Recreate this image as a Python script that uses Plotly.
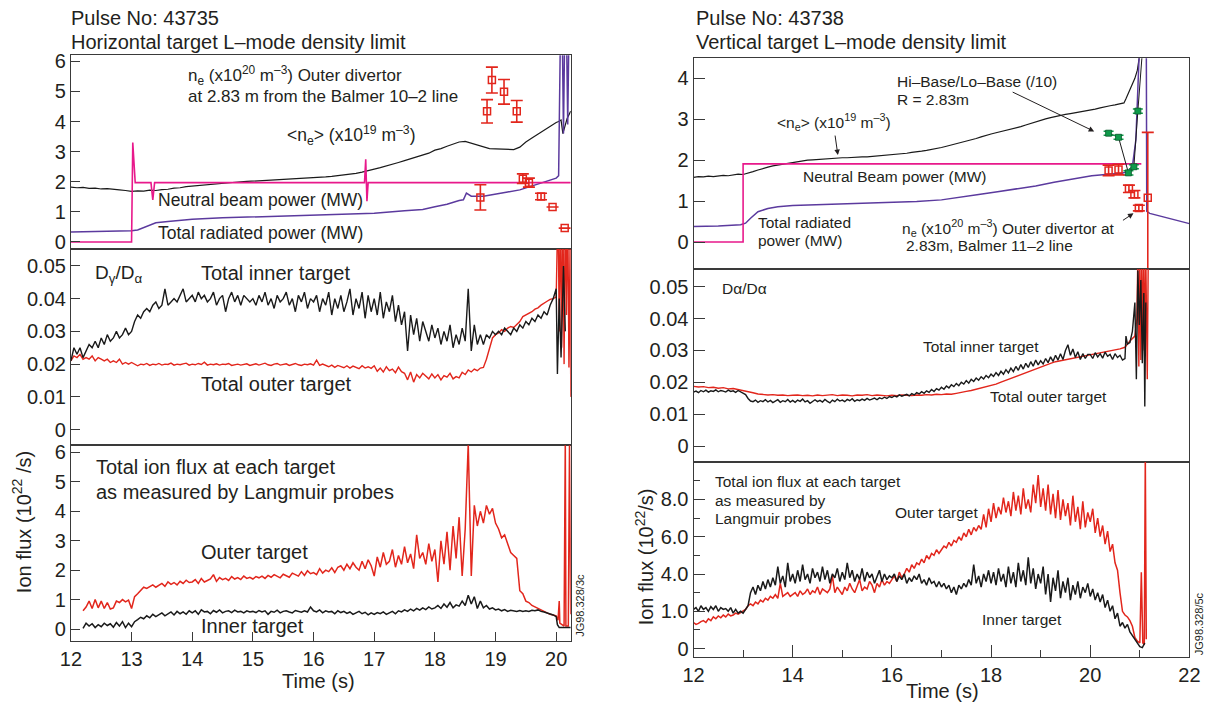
import plotly.graph_objects as go

W, H = 1224, 709
FONT = "Liberation Sans, Arial, Helvetica, sans-serif"
INK = "#231f20"
RED = "#e2261c"
BLACK = "#1a1a1a"
MAGENTA = "#e8198b"
PURPLE = "#5b3a9e"
GREEN = "#0f9a4a"

# ---------------- LEFT: pulse 43735 ----------------
# top panel
L_NBI_T = [12.0, 13.0, 13.02, 13.06, 13.32, 13.35, 13.38, 16.84, 16.86, 16.88, 16.90, 20.24]
L_NBI = [0.0, 0.0, 3.3, 1.97, 1.97, 1.4, 1.97, 1.97, 2.75, 1.35, 1.97, 1.97]

L_NE_T0, L_NE_DT = 12.0, 0.1
L_NE = [1.82, 1.80, 1.81, 1.78, 1.79, 1.76, 1.77, 1.74, 1.73, 1.71,
        1.68, 1.70, 1.69, 1.72, 1.71, 1.74, 1.75, 1.79, 1.80, 1.84,
        1.86, 1.87, 1.90, 1.91, 1.94, 1.95, 1.97, 1.98, 2.00, 2.01,
        2.02, 2.04, 2.04, 2.06, 2.06, 2.08, 2.08, 2.10, 2.10, 2.12,
        2.13, 2.15, 2.16, 2.18, 2.20, 2.23, 2.25, 2.28, 2.32, 2.36,
        2.42, 2.47, 2.52, 2.58, 2.64, 2.70, 2.76, 2.82, 2.88, 2.95,
        3.05, 3.10, 3.18, 3.26, 3.32, 3.34, 3.28, 3.20, 3.14, 3.10,
        3.09, 3.08, 3.08, 3.07, 3.15, 3.32, 3.45, 3.58, 3.72, 3.86,
        3.97]
L_NE_TAIL_T = [20.04, 20.08, 20.11, 20.14, 20.18, 20.24]
L_NE_TAIL = [4.0, 4.05, 3.6, 3.85, 4.1, 4.35]

L_PRAD_T = [12.0, 12.5, 13.0, 13.1, 13.2, 13.3, 13.4, 13.6, 13.8, 14.0, 14.5, 15.0, 15.5, 16.0,
            16.5, 17.0, 17.5, 17.8, 18.0, 18.2, 18.4, 18.47, 18.52, 18.6, 18.8, 19.0, 19.2,
            19.4, 19.6, 19.8, 20.0, 20.04, 20.07, 20.1, 20.12, 20.14, 20.17, 20.19, 20.21, 20.24]
L_PRAD = [0.33, 0.35, 0.37, 0.40, 0.48, 0.58, 0.64, 0.68, 0.72, 0.75, 0.80, 0.83, 0.86, 0.88,
          0.91, 0.95, 1.04, 1.08, 1.17, 1.25, 1.38, 1.40, 1.62, 1.52, 1.52, 1.60, 1.66,
          1.73, 1.86, 1.98, 2.12, 2.2, 7.0, 7.0, 3.6, 7.0, 7.0, 3.9, 7.0, 7.0]

L_NED_T = [18.94, 19.14, 18.86, 19.35, 18.75, 19.45, 19.55, 19.75, 19.94, 20.14]
L_NED = [5.38, 4.99, 4.34, 4.34, 1.48, 2.10, 1.97, 1.51, 1.16, 0.46]
L_NED_ERR = [0.43, 0.41, 0.39, 0.36, 0.42, 0.16, 0.15, 0.11, 0.0, 0.0]

# middle panel  D_gamma / D_alpha
L_DG_T0, L_DG_DT = 12.0, 0.05
L_DG_INNER = [
    0.021, 0.025, 0.023, 0.025, 0.022, 0.024, 0.026, 0.025, 0.027, 0.025,
    0.028, 0.026, 0.029, 0.027, 0.028, 0.030, 0.028, 0.029, 0.031, 0.029,
    0.030, 0.033, 0.035, 0.034, 0.036, 0.037, 0.036, 0.038, 0.039, 0.037,
    0.038, 0.043, 0.038, 0.039, 0.040, 0.039, 0.041, 0.043, 0.039, 0.040,
    0.041, 0.039, 0.042, 0.040, 0.041, 0.039, 0.040, 0.042, 0.038, 0.040,
    0.041, 0.036, 0.040, 0.042, 0.039, 0.041, 0.038, 0.041, 0.040, 0.039,
    0.040, 0.038, 0.041, 0.039, 0.042, 0.038, 0.040, 0.037, 0.041, 0.039,
    0.040, 0.042, 0.038, 0.040, 0.036, 0.041, 0.039, 0.042, 0.037, 0.040,
    0.039, 0.041, 0.036, 0.040, 0.038, 0.042, 0.035, 0.040, 0.037, 0.041,
    0.036, 0.039, 0.043, 0.035, 0.040, 0.037, 0.042, 0.034, 0.041, 0.036,
    0.040, 0.035, 0.042, 0.034, 0.039, 0.036, 0.041, 0.033, 0.038, 0.032,
    0.036, 0.024, 0.035, 0.029, 0.034, 0.027, 0.033, 0.030, 0.027, 0.032,
    0.028, 0.031, 0.026, 0.030, 0.027, 0.032, 0.025, 0.029, 0.026, 0.031,
    0.027, 0.043, 0.024, 0.032, 0.026, 0.029, 0.026, 0.029, 0.028, 0.030,
    0.029, 0.030, 0.029, 0.031, 0.030, 0.029, 0.031, 0.030, 0.032, 0.031,
    0.033, 0.032, 0.034, 0.033, 0.035, 0.034, 0.036, 0.035, 0.038, 0.040,
    0.043]
L_DG_INNER_TAIL_T = [20.02, 20.05, 20.08, 20.12, 20.15]
L_DG_INNER_TAIL = [0.017, 0.040, 0.022, 0.050, 0.030]

L_DG_OUTER = [
    0.0210, 0.0225, 0.0220, 0.0230, 0.0215, 0.0220, 0.0215, 0.0225, 0.0210, 0.0220,
    0.0215, 0.0210, 0.0215, 0.0205, 0.0210, 0.0205, 0.0215, 0.0200, 0.0205, 0.0200,
    0.0205, 0.0200, 0.0195, 0.0200, 0.0198, 0.0202, 0.0196, 0.0200, 0.0198, 0.0202,
    0.0197, 0.0200, 0.0199, 0.0203, 0.0197, 0.0200, 0.0198, 0.0201, 0.0203, 0.0197,
    0.0200, 0.0198, 0.0202, 0.0199, 0.0206, 0.0197, 0.0200, 0.0198, 0.0201, 0.0197,
    0.0200, 0.0199, 0.0202, 0.0196, 0.0198, 0.0200, 0.0197, 0.0199, 0.0201, 0.0196,
    0.0198, 0.0201, 0.0197, 0.0200, 0.0203, 0.0198, 0.0196, 0.0200, 0.0202, 0.0197,
    0.0199, 0.0201, 0.0196, 0.0199, 0.0202, 0.0198, 0.0196, 0.0200, 0.0198, 0.0201,
    0.0197, 0.0212, 0.0196, 0.0200, 0.0195, 0.0192, 0.0197, 0.0190, 0.0196, 0.0192,
    0.0189, 0.0195, 0.0188, 0.0194, 0.0190, 0.0186, 0.0195, 0.0188, 0.0192, 0.0187,
    0.0195, 0.0178, 0.0188, 0.0176, 0.0192, 0.0180, 0.0185, 0.0174, 0.0191, 0.0177,
    0.0172, 0.0152, 0.0176, 0.0145, 0.0168, 0.0158, 0.0172, 0.0162, 0.0155, 0.0170,
    0.0158, 0.0168, 0.0152, 0.0165, 0.0160, 0.0172, 0.0155, 0.0162, 0.0158, 0.0175,
    0.0168, 0.0182, 0.0176, 0.0185, 0.0180, 0.0188, 0.0190, 0.0215, 0.0252, 0.0280,
    0.0290, 0.0295, 0.0305, 0.0300, 0.0310, 0.0315, 0.0312, 0.0320, 0.0330, 0.0345,
    0.0350, 0.0355, 0.0360, 0.0368, 0.0372, 0.0380, 0.0385, 0.0392, 0.0398, 0.0400,
    0.0405]
L_DG_OUTER_TAIL_T = [20.03, 20.05, 20.07, 20.09, 20.11, 20.13, 20.15, 20.17, 20.19, 20.21, 20.23, 20.24]
L_DG_OUTER_TAIL = [0.070, 0.030, 0.070, 0.025, 0.070, 0.020, 0.070, 0.035, 0.070, 0.019, 0.060, 0.010]

# bottom panel  ion flux
L_FX_T0, L_FX_DT = 12.2, 0.05
L_FX_OUTER = [
    0.62, 0.75, 0.95, 0.70, 1.00, 0.72, 0.95, 0.70, 0.90, 0.68, 0.72, 0.95, 0.90, 1.00, 0.92, 0.98,
    0.70, 1.10, 1.20, 1.30, 1.42, 1.38, 1.45, 1.50, 1.42, 1.48, 1.55, 1.45, 1.60, 1.52, 1.58, 1.50, 1.62, 1.55, 1.66, 1.58,
    1.60, 1.68, 1.55, 1.72, 1.60, 1.65, 1.70, 1.85, 1.62, 1.75, 1.68, 1.72, 1.65, 1.78, 1.70, 1.75, 1.68, 1.80, 1.72, 1.76,
    1.70, 1.78, 1.74, 1.80, 1.72, 1.82, 1.76, 1.85, 1.78, 1.74, 1.86, 1.80, 1.76, 1.90, 1.84, 1.80, 1.95, 1.82, 1.98, 1.88,
    1.92, 1.85, 2.05, 1.90, 2.00, 1.95, 2.08, 1.92, 2.10, 2.15, 2.00, 2.20, 2.05, 2.25, 2.10, 2.00, 2.30, 2.05, 2.35, 2.15,
    1.80, 2.45, 2.10, 2.60, 2.20, 2.30, 2.70, 2.10, 2.50, 2.20, 2.80, 2.25, 2.55, 2.05, 3.20, 2.40, 2.60, 2.20, 2.90, 2.30,
    2.70, 1.60, 3.00, 2.20, 3.30, 2.00, 3.50, 2.40, 3.80, 1.80, 3.40, 6.30, 1.80, 4.20, 3.50, 4.00, 3.60, 4.20, 3.90, 4.10,
    3.60, 3.40, 3.10, 3.20, 2.90, 2.60, 2.50, 2.40, 1.30, 1.20, 0.95, 0.90, 0.80, 0.75, 0.70, 0.65, 0.60, 0.55, 0.50, 0.48]
L_FX_OUTER_TAIL_T = [20.0, 20.03, 20.05, 20.06, 20.1, 20.13, 20.15, 20.16, 20.2, 20.22, 20.24]
L_FX_OUTER_TAIL = [0.45, 0.30, 0.95, 0.20, 0.15, 0.10, 6.5, 0.10, 0.10, 6.5, 0.5]

L_FX_INNER = [
    0.02, 0.20, 0.10, 0.18, 0.05, 0.15, 0.08, 0.20, 0.12, 0.18, 0.06, 0.22, 0.10, 0.25, 0.05, 0.20,
    0.08, 0.25, 0.32, 0.40, 0.35, 0.45, 0.38, 0.50, 0.42, 0.48, 0.55, 0.45, 0.52, 0.58, 0.48, 0.60, 0.52, 0.58, 0.50, 0.62,
    0.55, 0.62, 0.50, 0.65, 0.58, 0.60, 0.52, 0.63, 0.57, 0.65, 0.55, 0.60, 0.62, 0.56, 0.64, 0.58, 0.60, 0.55, 0.62, 0.58,
    0.60, 0.56, 0.63, 0.58, 0.62, 0.50, 0.60, 0.57, 0.64, 0.55, 0.60, 0.62, 0.58, 0.55, 0.63, 0.60, 0.57, 0.62, 0.58, 0.75,
    0.62, 0.58, 0.65, 0.55, 0.62, 0.58, 0.60, 0.52, 0.62, 0.56, 0.60, 0.53, 0.58, 0.50, 0.56, 0.60, 0.52, 0.57, 0.48, 0.55,
    0.50, 0.56, 0.52, 0.58, 0.50, 0.55, 0.60, 0.52, 0.62, 0.58, 0.65, 0.60, 0.68, 0.62, 0.70, 0.64, 0.72, 0.66, 0.75, 0.68,
    0.72, 0.80, 0.70, 0.85, 0.74, 0.90, 0.72, 0.82, 0.78, 0.95, 0.80, 1.15, 0.85, 1.10, 0.70, 0.95, 0.72, 0.80, 0.68, 0.72,
    0.65, 0.68, 0.62, 0.66, 0.60, 0.64, 0.62, 0.60, 0.63, 0.60, 0.62, 0.60, 0.64, 0.62, 0.65, 0.60, 0.58, 0.55, 0.52, 0.48]
L_FX_INNER_TAIL_T = [20.0, 20.02, 20.05, 20.24]
L_FX_INNER_TAIL = [0.42, 0.15, 0.05, 0.05]

# ---------------- RIGHT: pulse 43738 ----------------
R_NBI_T = [12.0, 13.0, 13.0, 21.03]
R_NBI = [0.0, 0.0, 1.91, 1.91]

R_NE_T0, R_NE_DT = 12.0, 0.1
R_NE = [1.58, 1.60, 1.59, 1.61, 1.60, 1.62, 1.63, 1.62, 1.64, 1.66,
        1.65, 1.68, 1.72, 1.76, 1.80, 1.83, 1.86, 1.88, 1.91, 1.93,
        1.95, 1.97, 1.98, 2.00, 2.01, 2.02, 2.03, 2.04, 2.05, 2.06,
        2.06, 2.06, 2.07, 2.07, 2.08, 2.08, 2.09, 2.10, 2.11, 2.12,
        2.13, 2.14, 2.15, 2.17, 2.19, 2.20, 2.22, 2.24, 2.26, 2.29,
        2.31, 2.34, 2.37, 2.40, 2.43, 2.47, 2.50, 2.53, 2.57, 2.61,
        2.64, 2.67, 2.70, 2.72, 2.75, 2.78, 2.82, 2.86, 2.90, 2.94,
        2.97, 3.01, 3.04, 3.07, 3.10, 3.12, 3.14, 3.16, 3.18, 3.20,
        3.23, 3.25, 3.28, 3.31, 3.33, 3.35, 3.37]
R_NE_TAIL_T = [20.68, 20.72, 20.8, 20.86, 20.9, 20.95, 21.0, 21.05]
R_NE_TAIL = [3.40, 3.50, 3.72, 3.90, 4.00, 4.20, 4.60, 5.00]

R_PRAD_T = [12.0, 12.5, 12.95, 13.05, 13.15, 13.3, 13.5, 13.7, 14.0, 14.5, 15.0, 15.5, 16.0,
            16.5, 17.0, 17.4, 17.75, 18.13, 18.5, 18.9, 19.27, 19.65, 20.03, 20.42, 20.64,
            20.75, 20.85, 20.92, 20.97, 21.0, 21.13, 21.14, 21.2, 21.5, 21.8, 22.0]
R_PRAD = [0.38, 0.39, 0.42, 0.46, 0.58, 0.74, 0.82, 0.86, 0.89, 0.91, 0.93, 0.95, 0.97,
          0.99, 1.03, 1.09, 1.16, 1.23, 1.30, 1.37, 1.46, 1.54, 1.62, 1.66, 1.68,
          1.72, 1.85, 2.5, 3.8, 5.0, 5.0, 0.75, 0.70, 0.60, 0.50, 0.45]

R_NED_T = [20.37, 20.57, 20.78, 20.89, 20.98]
R_NED = [1.75, 1.77, 1.30, 1.17, 0.83]
R_NED_ERR = [0.13, 0.13, 0.09, 0.09, 0.07]
R_NED_BIG_T = [21.16]
R_NED_BIG = [1.08]
R_NED_BIG_UP = [1.60]
R_NED_BIG_DOWN = [2.0]

R_HILO_T = [20.37, 20.57, 20.77, 20.88, 20.96]
R_HILO = [2.66, 2.56, 1.69, 1.84, 3.20]
R_HILO_LINE_T = [20.37, 20.57, 20.77, 20.88, 20.96, 21.06]
R_HILO_LINE = [2.66, 2.56, 1.69, 1.84, 3.20, 4.8]

# middle panel D_alpha
R_DA_OUTER_T0, R_DA_OUTER_DT = 12.0, 0.1
R_DA_OUTER = [
    0.0188, 0.0186, 0.0187, 0.0184, 0.0185, 0.0182, 0.0184, 0.0180, 0.0181, 0.0178,
    0.0176, 0.0172, 0.0168, 0.0164, 0.0162, 0.0161, 0.0162, 0.0160, 0.0161, 0.0159,
    0.0160, 0.0161, 0.0159, 0.0160, 0.0158, 0.0161, 0.0159, 0.0160, 0.0162, 0.0159,
    0.0161, 0.0160, 0.0158, 0.0161, 0.0160, 0.0162, 0.0159, 0.0161, 0.0160, 0.0158,
    0.0160, 0.0159, 0.0161, 0.0160, 0.0159, 0.0161, 0.0160, 0.0162, 0.0161, 0.0163,
    0.0162, 0.0164, 0.0163, 0.0166, 0.0168, 0.0172, 0.0175, 0.0179, 0.0183, 0.0186,
    0.0190, 0.0195, 0.0201, 0.0207, 0.0213, 0.0220, 0.0225, 0.0231, 0.0237, 0.0242,
    0.0248, 0.0254, 0.0260, 0.0265, 0.0268, 0.0272, 0.0276, 0.0279, 0.0282, 0.0285,
    0.0288, 0.0291, 0.0294, 0.0297, 0.0300, 0.0302, 0.0305, 0.0310, 0.0330, 0.0345]
R_DA_OUTER_TAIL_T = [20.94, 20.96, 20.98, 21.0, 21.02, 21.04, 21.06, 21.08, 21.1, 21.12, 21.15, 21.17]
R_DA_OUTER_TAIL = [0.040, 0.060, 0.025, 0.060, 0.027, 0.060, 0.030, 0.060, 0.028, 0.060, 0.021, 0.060]

R_DA_INNER_T0, R_DA_INNER_DT = 12.0, 0.05
R_DA_INNER = [
    0.0170, 0.0173, 0.0168, 0.0175, 0.0171, 0.0176, 0.0170, 0.0174, 0.0172, 0.0177,
    0.0171, 0.0175, 0.0173, 0.0170, 0.0176, 0.0172, 0.0174, 0.0169, 0.0175, 0.0171,
    0.0168, 0.0162, 0.0150, 0.0142, 0.0140, 0.0145, 0.0138, 0.0143, 0.0140, 0.0146,
    0.0139, 0.0144, 0.0137, 0.0142, 0.0146, 0.0138, 0.0143, 0.0140, 0.0147, 0.0139,
    0.0144, 0.0138, 0.0145, 0.0141, 0.0148, 0.0139, 0.0143, 0.0135, 0.0142, 0.0146,
    0.0140, 0.0144, 0.0139, 0.0147, 0.0141, 0.0136, 0.0145, 0.0140, 0.0148, 0.0142,
    0.0145, 0.0140, 0.0147, 0.0143, 0.0149, 0.0141, 0.0146, 0.0143, 0.0148, 0.0144,
    0.0150, 0.0145, 0.0148, 0.0151, 0.0146, 0.0152, 0.0149, 0.0154, 0.0150, 0.0156,
    0.0153, 0.0158, 0.0155, 0.0161, 0.0157, 0.0160, 0.0163, 0.0158, 0.0165, 0.0161,
    0.0168, 0.0164, 0.0171, 0.0166, 0.0174, 0.0169, 0.0178, 0.0172, 0.0181, 0.0176,
    0.0185, 0.0179, 0.0189, 0.0183, 0.0193, 0.0187, 0.0197, 0.0190, 0.0201, 0.0195,
    0.0206, 0.0198, 0.0210, 0.0203, 0.0214, 0.0207, 0.0218, 0.0211, 0.0222, 0.0215,
    0.0226, 0.0219, 0.0231, 0.0222, 0.0235, 0.0226, 0.0240, 0.0230, 0.0245, 0.0234,
    0.0250, 0.0238, 0.0256, 0.0242, 0.0260, 0.0247, 0.0265, 0.0251, 0.0270, 0.0255,
    0.0268, 0.0258, 0.0275, 0.0262, 0.0280, 0.0266, 0.0285, 0.0270, 0.0290, 0.0272,
    0.0300, 0.0318, 0.0285, 0.0305, 0.0278, 0.0296, 0.0272, 0.0290, 0.0275, 0.0288,
    0.0288, 0.0275, 0.0293, 0.0280, 0.0290, 0.0276, 0.0295, 0.0282, 0.0288, 0.0272,
    0.0290, 0.0278, 0.0285, 0.0270, 0.0275]
R_DA_INNER_TAIL_T = [20.72, 20.75, 20.8, 20.85, 20.9, 20.93, 20.96, 20.99, 21.02, 21.05, 21.08, 21.1, 21.12]
R_DA_INNER_TAIL = [0.0345, 0.0320, 0.0325, 0.0360, 0.0450, 0.0210, 0.0550, 0.0380, 0.0520, 0.0260, 0.0480, 0.0125, 0.0450]

# bottom panel ion flux
R_FX_T0, R_FX_DT = 12.0, 0.05
R_FX_INNER = [
    2.1, 2.2, 2.0, 2.3, 2.1, 2.2, 2.0, 2.25, 2.1, 2.3, 2.0, 2.2, 2.1, 2.15, 2.0, 2.2, 1.9, 2.1, 1.9, 2.0,
    1.9, 2.1, 2.3, 3.0, 3.3, 2.9, 3.4, 3.1, 3.6, 3.2, 3.7, 3.3, 3.8, 3.4, 4.4, 3.5, 3.9, 3.3, 4.6, 3.6,
    4.0, 3.5, 4.2, 3.6, 4.5, 3.7, 4.0, 3.5, 4.3, 3.8, 4.1, 3.6, 4.4, 3.7, 4.2, 3.5, 4.0, 3.8, 4.3, 3.6,
    4.1, 3.7, 4.6, 3.8, 4.2, 3.6, 4.0, 3.7, 4.3, 3.6, 4.1, 3.8, 4.0, 3.5, 3.9, 4.2, 3.6, 4.0, 3.7, 3.9,
    3.8, 4.0, 3.6, 3.9, 3.7, 4.0, 3.5, 3.8, 3.6, 3.9, 3.7, 4.0, 3.5, 3.7, 3.4, 3.8, 3.5, 3.6, 3.3, 3.6,
    3.3, 3.5, 3.2, 3.4, 3.0, 3.3, 2.9, 3.4, 3.2, 3.5, 3.3, 3.7, 3.4, 4.5, 3.5, 3.9, 3.3, 4.0, 3.6, 4.2,
    3.5, 4.1, 3.4, 4.3, 3.6, 4.0, 3.3, 4.4, 3.5, 4.1, 3.3, 4.6, 3.6, 4.2, 3.4, 4.9, 3.5, 4.3, 3.2, 4.0,
    3.5, 4.4, 2.9, 4.0, 2.5, 3.8, 3.1, 4.2, 2.7, 3.6, 3.0, 3.8, 2.6, 3.4, 2.9, 3.6, 2.7, 3.3, 3.0, 3.5,
    2.8, 3.2, 2.6, 3.0, 2.5, 2.9, 2.2, 2.6, 2.0, 2.3, 1.6, 1.9, 1.2, 1.4, 1.1, 1.3, 0.9, 0.7, 0.5, 0.3]
R_FX_INNER_TAIL_T = [21.0, 21.05, 21.1]
R_FX_INNER_TAIL = [0.1, 0.05, 0.3]

R_FX_OUTER = [
    1.4, 1.3, 1.35, 1.45, 1.5, 1.4, 1.6, 1.5, 1.7, 1.6, 1.75, 1.65, 1.8, 1.7, 1.85, 1.75, 1.8, 1.9, 1.85, 1.95,
    2.0, 2.1, 2.3, 2.4, 2.3, 2.5, 2.4, 2.6, 2.5, 2.7, 2.6, 2.8, 2.7, 2.9, 2.7, 3.5, 2.8, 2.9, 3.0, 2.8,
    2.9, 3.0, 2.8, 3.1, 2.9, 3.0, 3.2, 2.9, 3.1, 3.0, 3.3, 2.9, 3.2, 3.1, 3.0, 3.2, 3.9, 3.0, 3.3, 3.1,
    2.9, 3.3, 3.1, 3.5, 3.2, 3.0, 3.4, 3.7, 3.1, 3.3, 3.2, 3.6, 3.4, 3.0, 3.5, 3.3, 3.7, 3.4, 3.6, 3.5,
    3.7, 3.9, 3.6, 4.1, 3.8, 4.0, 4.3, 4.1, 4.5, 4.3, 4.6, 4.5, 4.8, 4.6, 5.0, 4.8, 5.1, 5.0, 5.3, 5.1,
    5.3, 5.5, 5.4, 5.7, 5.5, 5.8, 5.7, 6.0, 5.8, 6.2, 6.0, 6.4, 6.1, 6.5, 6.3, 6.6, 6.4, 7.2, 6.5, 7.5,
    6.8, 7.8, 7.0, 7.6, 7.2, 8.1, 7.3, 7.9, 7.1, 8.4, 7.4, 8.2, 7.2, 8.6, 7.5, 8.0, 7.3, 8.8, 7.8, 9.3,
    7.6, 8.6, 7.4, 8.8, 7.2, 8.3, 7.0, 8.5, 6.9, 8.0, 7.1, 7.8, 6.6, 8.2, 6.8, 7.6, 6.4, 7.9, 6.5, 7.3,
    6.8, 7.5, 6.2, 7.0, 6.0, 6.6, 5.6, 6.3, 5.2, 5.6, 4.6, 4.2, 3.0, 2.0, 1.8, 1.7, 1.5, 1.2, 0.6, 0.4]
R_FX_OUTER_TAIL_T = [21.0, 21.03, 21.06, 21.09, 21.11, 21.13]
R_FX_OUTER_TAIL = [0.3, 4.1, 0.3, 0.2, 10.5, 0.5]


def grid(t0, dt, vals):
    return [round(t0 + i * dt, 4) for i in range(len(vals))]


def px(x):
    return x / W


def py(y):
    return 1 - y / H


fig = go.Figure()


def line(xs, ys, color, width, ax):
    fig.add_trace(go.Scatter(x=xs, y=ys, mode="lines", line=dict(color=color, width=width),
                             xaxis="x" + ax, yaxis="y" + ax, showlegend=False, hoverinfo="skip"))


# LEFT top
line(grid(L_NE_T0, L_NE_DT, L_NE) + L_NE_TAIL_T, L_NE + L_NE_TAIL, BLACK, 1.2, "")
line(L_PRAD_T, L_PRAD, PURPLE, 1.5, "")
line(L_NBI_T, L_NBI, MAGENTA, 1.6, "")
fig.add_trace(go.Scatter(x=L_NED_T, y=L_NED, mode="markers",
                         marker=dict(symbol="square-open", size=7, color=RED, line=dict(width=1.5, color=RED)),
                         error_y=dict(type="data", array=L_NED_ERR, color=RED, thickness=1.6, width=6),
                         xaxis="x", yaxis="y", showlegend=False, hoverinfo="skip"))
# LEFT middle
line(grid(L_DG_T0, L_DG_DT, L_DG_OUTER) + L_DG_OUTER_TAIL_T, L_DG_OUTER + L_DG_OUTER_TAIL, RED, 1.4, "2")
line(grid(L_DG_T0, L_DG_DT, L_DG_INNER) + L_DG_INNER_TAIL_T, L_DG_INNER + L_DG_INNER_TAIL, BLACK, 1.4, "2")
# LEFT bottom
line(grid(L_FX_T0, L_FX_DT, L_FX_OUTER) + L_FX_OUTER_TAIL_T, L_FX_OUTER + L_FX_OUTER_TAIL, RED, 1.5, "3")
line(grid(L_FX_T0, L_FX_DT, L_FX_INNER) + L_FX_INNER_TAIL_T, L_FX_INNER + L_FX_INNER_TAIL, BLACK, 1.5, "3")

# RIGHT top
line(grid(R_NE_T0, R_NE_DT, R_NE) + R_NE_TAIL_T, R_NE + R_NE_TAIL, BLACK, 1.2, "4")
line(R_PRAD_T, R_PRAD, PURPLE, 1.5, "4")
line(R_NBI_T, R_NBI, MAGENTA, 1.6, "4")
line(R_HILO_LINE_T, R_HILO_LINE, BLACK, 1.0, "4")
fig.add_trace(go.Scatter(x=R_HILO_T, y=R_HILO, mode="markers",
                         marker=dict(symbol="square", size=6, color=GREEN, line=dict(width=0.8, color="#0b5a2c")),
                         error_y=dict(type="constant", value=0.05, color=GREEN, thickness=1.5, width=5),
                         xaxis="x4", yaxis="y4", showlegend=False, hoverinfo="skip"))
fig.add_trace(go.Scatter(x=R_NED_T, y=R_NED, mode="markers",
                         marker=dict(symbol="square-open", size=7, color=RED, line=dict(width=1.5, color=RED)),
                         error_y=dict(type="data", array=R_NED_ERR, color=RED, thickness=1.6, width=6),
                         xaxis="x4", yaxis="y4", showlegend=False, hoverinfo="skip"))
fig.add_trace(go.Scatter(x=R_NED_BIG_T, y=R_NED_BIG, mode="markers",
                         marker=dict(symbol="square-open", size=7, color=RED, line=dict(width=1.5, color=RED)),
                         error_y=dict(type="data", symmetric=False, array=R_NED_BIG_UP,
                                      arrayminus=R_NED_BIG_DOWN, color=RED, thickness=1.6, width=6),
                         xaxis="x4", yaxis="y4", showlegend=False, hoverinfo="skip"))
# RIGHT middle
line(grid(R_DA_OUTER_T0, R_DA_OUTER_DT, R_DA_OUTER) + R_DA_OUTER_TAIL_T, R_DA_OUTER + R_DA_OUTER_TAIL, RED, 1.4, "5")
line(grid(R_DA_INNER_T0, R_DA_INNER_DT, R_DA_INNER) + R_DA_INNER_TAIL_T, R_DA_INNER + R_DA_INNER_TAIL, BLACK, 1.4, "5")
# RIGHT bottom
line(grid(R_FX_T0, R_FX_DT, R_FX_OUTER) + R_FX_OUTER_TAIL_T, R_FX_OUTER + R_FX_OUTER_TAIL, RED, 1.5, "6")
line(grid(R_FX_T0, R_FX_DT, R_FX_INNER) + R_FX_INNER_TAIL_T, R_FX_INNER + R_FX_INNER_TAIL, BLACK, 1.5, "6")

# ---------------- axes ----------------
TICKFONT = dict(family=FONT, size=20, color=INK)
LC = "#3a3a3a"


def xax(x0, x1, y0, y1, rng, anchor, bottom=False, **kw):
    d = dict(domain=[px(x0), px(x1)], range=rng, anchor=anchor, showline=True, mirror=True,
             linecolor=LC, linewidth=1, showgrid=False, zeroline=False, fixedrange=True)
    if bottom:
        d.update(ticks="inside", tickcolor=LC, tickfont=TICKFONT, showticklabels=True)
    else:
        d.update(ticks="", showticklabels=False)
    d.update(kw)
    return d


def yax(y0, y1, rng, anchor, **kw):
    d = dict(domain=[py(y1), py(y0)], range=rng, anchor=anchor, showline=True, mirror=True,
             linecolor=LC, linewidth=1, showgrid=False, zeroline=False, ticks="inside",
             tickcolor=LC, tickfont=TICKFONT, fixedrange=True)
    d.update(kw)
    return d


LX0, LX1 = 61, 570
RX0, RX1 = 695, 1200
L_RANGE = [12.0, 20.24]
R_RANGE = [12.0, 22.0]

layout = dict(
    width=W, height=H, margin=dict(l=0, r=0, t=0, b=0), autosize=False,
    paper_bgcolor="white", plot_bgcolor="white", showlegend=False,
    font=dict(family=FONT, color=INK),
    xaxis=xax(LX0, LX1, 51, 247, L_RANGE, "y"),
    yaxis=yax(51, 247, [-0.23, 6.2], "x", tickvals=[0, 1, 2, 3, 4, 5, 6], ticklen=9),
    xaxis2=xax(LX0, LX1, 247, 446, L_RANGE, "y2"),
    yaxis2=yax(247, 446, [-0.0048, 0.0552], "x2", tickvals=[0, 0.01, 0.02, 0.03, 0.04, 0.05],
               ticktext=["0", "0.01", "0.02", "0.03", "0.04", "0.05"], ticklen=9),
    xaxis3=xax(LX0, LX1, 446, 644, L_RANGE, "y3", bottom=True,
               tickvals=[12, 13, 14, 15, 16, 17, 18, 19, 20], ticklen=9),
    yaxis3=yax(446, 644, [-0.4, 6.24], "x3", tickvals=[0, 1, 2, 3, 4, 5, 6], ticklen=9),
    xaxis4=xax(RX0, RX1, 54, 267, R_RANGE, "y4"),
    yaxis4=yax(54, 267, [-0.65, 4.49], "x4", tickvals=[0, 1, 2, 3, 4], ticklen=11),
    xaxis5=xax(RX0, RX1, 267, 463, R_RANGE, "y5"),
    yaxis5=yax(267, 463, [-0.0049, 0.0556], "x5", tickvals=[0, 0.01, 0.02, 0.03, 0.04, 0.05],
               ticktext=["0", "0.01", "0.02", "0.03", "0.04", "0.05"], ticklen=11),
    xaxis6=xax(RX0, RX1, 463, 660, R_RANGE, "y6", bottom=True,
               tickvals=[12, 14, 16, 18, 20, 22], ticklen=12,
               minor=dict(tickvals=[13, 15, 17, 19, 21], ticks="inside", ticklen=7, tickcolor=LC)),
    yaxis6=yax(463, 660, [-0.43, 10.0], "x6", tickvals=[0, 2, 4, 6, 8],
               ticktext=["0", "1.0", "4.0", "6.0", "8.0"], ticklen=11,
               minor=dict(tickvals=[1, 3, 5, 7, 9], ticks="inside", ticklen=6, tickcolor=LC)),
)
fig.update_layout(**layout)


# ---------------- text ----------------
def txt(x, y, s, size, anchor="left", angle=0, color=INK):
    fig.add_annotation(x=px(x), y=py(y), xref="paper", yref="paper", text=s, showarrow=False,
                       xanchor=anchor, yanchor="middle", textangle=angle,
                       font=dict(family=FONT, size=size, color=color))


def arrow(x_head, y_head, x_tail, y_tail):
    fig.add_annotation(x=px(x_head), y=py(y_head), xref="paper", yref="paper", text="",
                       showarrow=True, ax=x_tail - x_head, ay=y_tail - y_head,
                       arrowhead=2, arrowsize=1.1, arrowwidth=1, arrowcolor=INK)


# left
txt(59, 13, "Pulse No: 43735", 20)
txt(59, 37, "Horizontal target L–mode density limit", 20)
txt(178, 71, "n<sub>e</sub> (x10<sup>20</sup> m<sup>–3</sup>) Outer divertor", 17)
txt(178, 93, "at 2.83 m from the Balmer 10–2 line", 17)
txt(279, 132, "&lt;n<sub>e</sub>&gt; (x10<sup>19</sup> m<sup>–3</sup>)", 17.5)
txt(148, 198, "Neutral beam power (MW)", 17.5)
txt(148, 231, "Total radiated power (MW)", 17.5)
txt(83, 272, "D<sub>γ</sub>/D<sub>α</sub>", 19)
txt(191, 271, "Total inner target", 20)
txt(191, 384, "Total outer target", 20)
txt(85, 468, "Total ion flux at each target", 20)
txt(85, 493, "as measured by Langmuir probes", 20)
txt(191, 554, "Outer target", 20)
txt(191, 629, "Inner target", 20)
txt(11, 524, "Ion flux (10<sup>22</sup> /s)", 20, anchor="center", angle=-90)
txt(313, 685, "Time (s)", 20, anchor="center")
txt(580, 608, "JG98.328/3c", 11, anchor="center", angle=-90)

# right
txt(696, 13, "Pulse No: 43738", 20)
txt(696, 37, "Vertical target L–mode density limit", 20)
txt(900, 77, "Hi–Base/Lo–Base (/10)", 15.5)
txt(900, 96, "R = 2.83m", 15.5)
txt(778, 118, "&lt;n<sub>e</sub>&gt; (x10<sup>19</sup> m<sup>–3</sup>)", 15.5)
txt(804, 174, "Neutral Beam power (MW)", 15.5)
txt(759, 220, "Total radiated", 15.5)
txt(759, 239, "power (MW)", 15.5)
txt(905, 226, "n<sub>e</sub> (x10<sup>20</sup> m<sup>–3</sup>) Outer divertor at", 15.5)
txt(909, 244, "2.83m, Balmer 11–2 line", 15.5)
arrow(1103, 128, 1020, 88)
arrow(842, 152, 839, 131)
arrow(1143, 211, 1131, 219)
txt(722, 287, "Dα/Dα", 15.5)
txt(927, 346, "Total inner target", 15.5)
txt(995, 397, "Total outer target", 15.5)
txt(715, 483, "Total ion flux at each target", 15.5)
txt(715, 502, "as measured by", 15.5)
txt(715, 520, "Langmuir probes", 15.5)
txt(898, 514, "Outer target", 15.5)
txt(987, 622, "Inner target", 15.5)
txt(645, 559, "Ion flux (10<sup>22</sup>/s)", 20, anchor="center", angle=-90)
txt(949, 695, "Time (s)", 20, anchor="center")
txt(1210, 627, "JG98.328/5c", 11, anchor="center", angle=-90)

fig.write_html("out.html", config={"displayModeBar": False, "staticPlot": True},
               post_script="document.body.style.margin='0px';")
